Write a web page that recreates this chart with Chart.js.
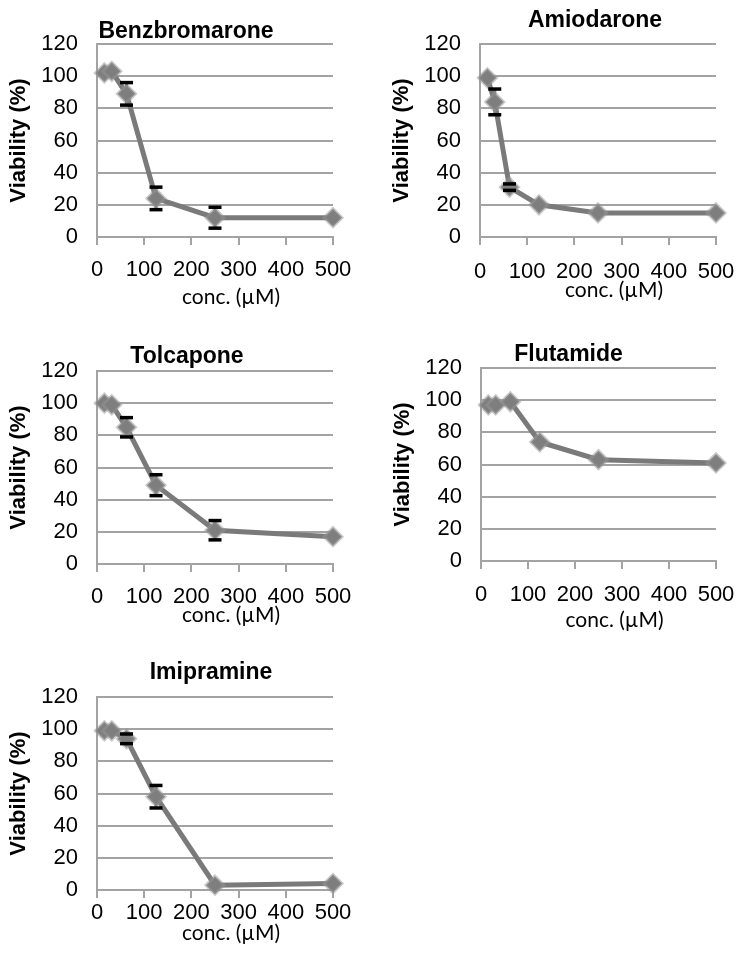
<!DOCTYPE html>
<html lang="en">
<head>
    <meta charset="UTF-8">
    <title>Viability curves</title>
    <script src="https://cdn.jsdelivr.net/npm/chart.js"></script>
    <style>
        body {
            margin: 0;
            background: #ffffff;
            width: 736px;
            height: 959px;
            overflow: hidden;
            position: relative;
        }
        canvas {
            position: absolute;
        }
    </style>
</head>
<body>

<canvas id="c1"></canvas>
<canvas id="c2"></canvas>
<canvas id="c3"></canvas>
<canvas id="c4"></canvas>
<canvas id="c5"></canvas>

<script>
    // concentrations (uM), same for every drug
    const conc = [15.63, 31.25, 62.5, 125, 250, 500];

    // viability (%)
    const benzbromarone = [102, 103, 89, 24, 12, 12];
    const benzbromaroneErr = [0, 0, 7, 7, 6.5, 0];
    const amiodarone = [99, 84, 31, 20, 15, 15];
    const amiodaroneErr = [0, 8, 2, 0, 0, 0];
    const tolcapone = [100, 99, 85, 49, 21, 17];
    const tolcaponeErr = [0, 0, 6, 6.5, 6, 0];
    const flutamide = [97, 97, 99, 74, 63, 61];
    const flutamideErr = [0, 0, 0, 0, 0, 0];
    const imipramine = [99, 99, 94, 58, 3, 4];
    const imipramineErr = [0, 0, 3, 7, 0, 0];

    const yTicks = [0, 20, 40, 60, 80, 100, 120];
    const xTicks = [0, 100, 200, 300, 400, 500];

    // where each small chart sits on the page
    const panels = [
        { id: 'c1', name: 'Benzbromarone', values: benzbromarone, errors: benzbromaroneErr,
          left: 0, top: 0, w: 353, h: 310, titleDx: -29, titleUp: 14, tickPad: 12, capDown: 60 },
        { id: 'c2', name: 'Amiodarone', values: amiodarone, errors: amiodaroneErr,
          left: 383, top: 0, w: 353, h: 310, titleDx: -3, titleUp: 25, tickPad: 14, capDown: 53 },
        { id: 'c3', name: 'Tolcapone', values: tolcapone, errors: tolcaponeErr,
          left: 0, top: 327, w: 353, h: 310, titleDx: -28, titleUp: 16, tickPad: 12, capDown: 51 },
        { id: 'c4', name: 'Flutamide', values: flutamide, errors: flutamideErr,
          left: 384, top: 324, w: 352, h: 310, titleDx: -30, titleUp: 15, tickPad: 13, capDown: 59 },
        { id: 'c5', name: 'Imipramine', values: imipramine, errors: imipramineErr,
          left: 0, top: 653, w: 353, h: 306, titleDx: -4, titleUp: 26, tickPad: 2, capDown: 43 }
    ];

    const gridGray = '#a3a3a3';
    const lineGray = '#7a7a7a';
    const armFont = "'Liberation Sans', Arial, sans-serif";

    Chart.defaults.font.family = armFont;
    Chart.defaults.color = '#000000';

    // error bars: gray stem under the line, black caps on top
    const errorBars = {
        id: 'errorBars',
        beforeDatasetsDraw(chart, args, opts) {
            const {ctx, scales: {x, y}} = chart;
            ctx.save();
            ctx.strokeStyle = lineGray;
            ctx.lineWidth = 3;
            opts.errors.forEach((e, i) => {
                if (!e) return;
                const px = x.getPixelForValue(conc[i]);
                ctx.beginPath();
                ctx.moveTo(px, y.getPixelForValue(opts.values[i] + e));
                ctx.lineTo(px, y.getPixelForValue(opts.values[i] - e));
                ctx.stroke();
            });
            ctx.restore();
        },
        afterDatasetsDraw(chart, args, opts) {
            const {ctx, scales: {x, y}} = chart;
            ctx.save();
            ctx.strokeStyle = '#000000';
            ctx.lineWidth = 3.5;
            opts.errors.forEach((e, i) => {
                if (!e) return;
                const px = x.getPixelForValue(conc[i]);
                [opts.values[i] + e, opts.values[i] - e].forEach(v => {
                    const py = y.getPixelForValue(v);
                    ctx.beginPath();
                    ctx.moveTo(px - 6.5, py);
                    ctx.lineTo(px + 6.5, py);
                    ctx.stroke();
                });
            });
            ctx.restore();
        }
    };

    // drug name above the plot and the x caption below it
    const captions = {
        id: 'captions',
        afterDraw(chart, args, opts) {
            const {ctx, chartArea} = chart;
            const mid = (chartArea.left + chartArea.right) / 2;
            ctx.save();
            ctx.fillStyle = '#000000';
            ctx.textAlign = 'center';
            ctx.textBaseline = 'alphabetic';
            ctx.font = 'bold 23px ' + armFont;
            ctx.fillText(opts.title, mid + opts.titleDx, chartArea.top - opts.titleUp + 8);
            ctx.font = "21px Lato, 'Open Sans', sans-serif";
            ctx.textBaseline = 'middle';
            ctx.fillText('conc. (\u00B5M)', mid + 16, chartArea.bottom + opts.capDown);
            ctx.restore();
        }
    };

    panels.forEach(p => {
        const canvas = document.getElementById(p.id);
        canvas.width = p.w;
        canvas.height = p.h;
        canvas.style.left = p.left + 'px';
        canvas.style.top = p.top + 'px';

        new Chart(canvas.getContext('2d'), {
            type: 'line',
            data: {
                datasets: [{
                    data: conc.map((c, i) => ({ x: c, y: p.values[i] })),
                    borderColor: lineGray,
                    borderWidth: 5,
                    pointStyle: 'rectRot',
                    pointRadius: 9,
                    pointBackgroundColor: '#7e7e7e',
                    pointBorderColor: 'rgba(150,150,150,0.5)',
                    pointBorderWidth: 3,
                    tension: 0,
                    clip: false
                }]
            },
            plugins: [errorBars, captions],
            options: {
                responsive: false,
                animation: false,
                devicePixelRatio: 1,
                layout: { padding: { top: 44, right: 20, bottom: 0, left: 0 } },
                plugins: {
                    legend: { display: false },
                    tooltip: { enabled: false },
                    errorBars: { values: p.values, errors: p.errors },
                    captions: { title: p.name, titleDx: p.titleDx, titleUp: p.titleUp, capDown: p.capDown }
                },
                scales: {
                    x: {
                        type: 'linear',
                        min: 0,
                        max: 500,
                        afterBuildTicks: s => { s.ticks = xTicks.map(v => ({ value: v })); },
                        afterFit: s => {
                            s.height = p.h - 237;
                            s.paddingLeft = 0;
                            s.paddingRight = 0;
                        },
                        ticks: { font: { size: 22 }, padding: p.tickPad, maxRotation: 0 },
                        grid: { drawOnChartArea: false, drawTicks: true, tickLength: 8, color: gridGray, lineWidth: 2 },
                        border: { color: gridGray, width: 2 }
                    },
                    y: {
                        min: 0,
                        max: 120,
                        afterBuildTicks: s => { s.ticks = yTicks.map(v => ({ value: v })); },
                        afterFit: s => { s.width = 97; },
                        ticks: { font: { size: 22 }, padding: 19 },
                        grid: { drawTicks: false, color: gridGray, lineWidth: 2 },
                        border: { color: gridGray, width: 2 },
                        title: {
                            display: true,
                            text: 'Viability (%)',
                            font: { size: 22, weight: 'bold' },
                            padding: { top: 6, bottom: 0 }
                        }
                    }
                }
            }
        });
    });
</script>

</body>
</html>
